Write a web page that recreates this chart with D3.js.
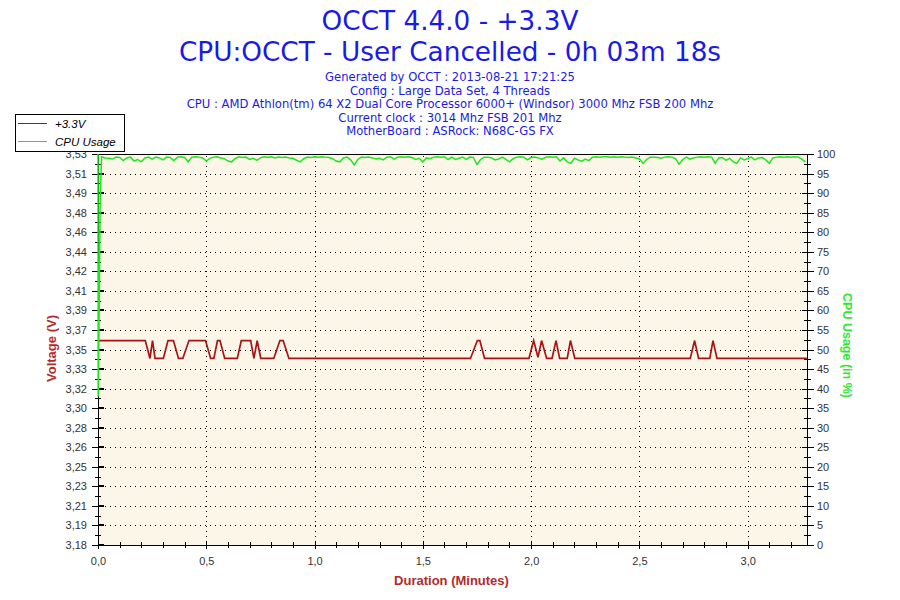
<!DOCTYPE html>
<html>
<head>
<meta charset="utf-8">
<script src="https://cdn.jsdelivr.net/npm/d3@7"></script>
<style>
body { margin: 0; background: #fff; }
</style>
</head>
<body>
<div id="chart-area"></div>
<script>
// Texts
const titleLines = ["OCCT 4.4.0 - +3.3V", "CPU:OCCT - User Cancelled - 0h 03m 18s"]
const infoLines = [
	"Generated by OCCT : 2013-08-21 17:21:25",
	"Config : Large Data Set, 4 Threads",
	"CPU : AMD Athlon(tm) 64 X2 Dual Core Processor 6000+ (Windsor) 3000 Mhz FSB 200 Mhz",
	"Current clock : 3014 Mhz FSB 201 Mhz",
	"MotherBoard : ASRock: N68C-GS FX"
]
const seriesNames = ["+3.3V", "CPU Usage"]

// Axes
const voltDomain = [3.18, 3.53]
const voltTickLabels = ["3,18", "3,19", "3,21", "3,23", "3,25", "3,26", "3,28", "3,30", "3,32", "3,33",
	"3,35", "3,37", "3,39", "3,41", "3,42", "3,44", "3,46", "3,48", "3,49", "3,51", "3,53"]
const cpuTicks = [0, 5, 10, 15, 20, 25, 30, 35, 40, 45, 50, 55, 60, 65, 70, 75, 80, 85, 90, 95, 100]
const timeTicks = [0, 0.5, 1, 1.5, 2, 2.5, 3]
const timeMax = 3.274 // minutes

// +3.3V readings (time in seconds, volts)
const voltTime = [0, 13.1, 14.4, 15.1, 15.8, 18.1, 19.4, 20.9, 22.3, 23.5, 25.2, 29.8, 31.2, 32.1, 33.1, 33.8,
	35.1, 38.6, 39.7, 42.3, 43.2, 44.1, 45.1, 48.7, 50.4, 51.3, 52.9, 103.2, 105.1, 105.8, 107.1,
	119.4, 120.7, 121.9, 122.9, 124.3, 125.8, 126.9, 127.9, 130.0, 130.9, 132.1,
	164.1, 165.3, 166.4, 169.5, 170.4, 171.5, 196.4]
const voltValue = [3.363, 3.363, 3.347, 3.363, 3.347, 3.347, 3.363, 3.363, 3.347, 3.347, 3.363, 3.363, 3.347, 3.347, 3.363, 3.363,
	3.347, 3.347, 3.363, 3.363, 3.347, 3.363, 3.347, 3.347, 3.363, 3.363, 3.347, 3.347, 3.363, 3.363, 3.347,
	3.347, 3.363, 3.348, 3.363, 3.347, 3.347, 3.363, 3.347, 3.347, 3.363, 3.347,
	3.347, 3.363, 3.347, 3.347, 3.363, 3.347, 3.347]

// CPU usage: start-up burst, then one reading per second from t = 1 s
const cpuStartTime = [0, 0.05, 0.35, 0.6]
const cpuStartValue = [100, 38, 62, 88]
const cpuValues = [
	99.3, 99.0, 98.9, 98.7, 99.2, 99.1, 98.3, 99.0, 99.2, 98.2,
	98.6, 98.0, 99.0, 99.2, 98.7, 99.2, 99.0, 98.5, 99.2, 99.1,
	98.3, 99.2, 99.3, 99.1, 98.0, 99.2, 99.3, 99.2, 99.0, 98.2,
	98.9, 99.2, 99.3, 99.0, 98.8, 98.2, 98.0, 98.8, 99.3, 99.1,
	99.2, 98.6, 98.9, 98.4, 99.0, 99.3, 99.2, 99.3, 99.0, 99.2,
	99.1, 99.2, 99.0, 98.9, 98.4, 98.0, 98.8, 99.2, 99.1, 99.3,
	99.2, 99.3, 99.2, 99.1, 98.8, 98.2, 98.0, 99.0, 99.2, 98.5,
	97.2, 98.6, 99.2, 99.1, 99.2, 99.0, 98.7, 98.9, 98.5, 99.2,
	99.3, 98.7, 99.2, 99.3, 99.2, 99.3, 99.1, 98.6, 98.9, 98.0,
	99.0, 98.8, 99.2, 99.3, 99.2, 99.3, 98.6, 99.2, 98.6, 98.9,
	99.2, 98.6, 99.2, 99.1, 97.3, 98.6, 99.2, 99.2, 99.0, 98.5,
	98.7, 99.2, 98.6, 98.0, 98.8, 99.2, 99.3, 99.2, 98.5, 99.1,
	99.2, 99.0, 98.6, 99.2, 99.3, 99.2, 99.3, 98.2, 99.0, 98.0,
	97.6, 98.9, 98.5, 98.1, 98.7, 98.3, 99.2, 99.3, 99.2, 99.3,
	99.3, 99.2, 99.3, 99.2, 99.3, 99.2, 99.1, 99.2, 99.0, 98.8,
	97.6, 98.6, 99.2, 99.2, 99.1, 98.9, 99.2, 99.3, 99.2, 98.8,
	97.4, 98.6, 99.2, 98.7, 99.0, 99.2, 99.3, 99.2, 99.3, 99.2,
	97.6, 99.0, 99.1, 98.4, 98.9, 98.0, 97.6, 99.0, 98.5, 98.8,
	99.2, 98.5, 99.0, 99.1, 98.5, 97.6, 99.0, 99.2, 99.3, 99.2,
	99.3, 99.2, 99.3, 99.2, 98.7, 98.0
]

const BLUE = "#1a1ae6"
const RED = "#a81414"
const GREEN = "#1ee61e"
const AXIS_RED = "#b22a2a"
const AXIS_GREEN = "#33e633"

const MARGIN = { LEFT: 98, RIGHT: 93, TOP: 154, BOTTOM: 55 }
const WIDTH = 900 - MARGIN.LEFT - MARGIN.RIGHT
const HEIGHT = 600 - MARGIN.TOP - MARGIN.BOTTOM

const svg = d3.select("#chart-area").append("svg")
	.attr("width", 900)
	.attr("height", 600)
	.style("display", "block")

// Titles
svg.selectAll(".title")
	.data(titleLines)
	.enter().append("text")
	.attr("class", "title")
	.attr("x", 450)
	.attr("y", (d, i) => 30 + i * 31)
	.attr("text-anchor", "middle")
	.attr("font-family", "DejaVu Sans, Verdana, sans-serif")
	.attr("font-size", "26.3px")
	.attr("fill", BLUE)
	.text(d => d)

svg.selectAll(".info")
	.data(infoLines)
	.enter().append("text")
	.attr("class", "info")
	.attr("x", 450)
	.attr("y", (d, i) => 81 + i * 13.5)
	.attr("text-anchor", "middle")
	.attr("font-family", "DejaVu Sans, Verdana, sans-serif")
	.attr("font-size", "11.6px")
	.attr("fill", BLUE)
	.text(d => d)

const g = svg.append("g")
	.attr("transform", `translate(${MARGIN.LEFT}, ${MARGIN.TOP})`)

// Scales
const x = d3.scaleLinear().domain([0, timeMax]).range([0, WIDTH])
const yVolt = d3.scaleLinear().domain(voltDomain).range([HEIGHT, 0])
const yCpu = d3.scaleLinear().domain([0, 100]).range([HEIGHT, 0])

const voltStep = (voltDomain[1] - voltDomain[0]) / (voltTickLabels.length - 1)
const voltTicks = voltTickLabels.map((d, i) => voltDomain[0] + i * voltStep)
const voltMinor = voltTicks.slice(0, -1).map(d => d + voltStep / 2)
const cpuMinor = cpuTicks.slice(0, -1).map(d => d + 2.5)
const timeMinor = d3.range(1, Math.floor(timeMax * 10) + 1).filter(i => i % 5 !== 0).map(i => i / 10)

const comma = d3.formatLocale({ decimal: ",", thousands: ".", grouping: [3], currency: ["", ""] }).format(".1f")

// Plot background
g.append("rect")
	.attr("width", WIDTH)
	.attr("height", HEIGHT)
	.attr("fill", "#fcf6e8")

// Dotted grid
g.selectAll(".hgrid")
	.data(voltTicks.slice(1, -1))
	.enter().append("line")
	.attr("class", "hgrid")
	.attr("x1", 2).attr("x2", WIDTH)
	.attr("y1", d => Math.round(yVolt(d)) + 0.5)
	.attr("y2", d => Math.round(yVolt(d)) + 0.5)
	.attr("stroke", "#000")
	.attr("stroke-dasharray", "1,4")
	.attr("shape-rendering", "crispEdges")

g.selectAll(".vgrid")
	.data(timeTicks.slice(1))
	.enter().append("line")
	.attr("class", "vgrid")
	.attr("x1", d => Math.round(x(d)) + 0.5)
	.attr("x2", d => Math.round(x(d)) + 0.5)
	.attr("y1", 2).attr("y2", HEIGHT)
	.attr("stroke", "#000")
	.attr("stroke-dasharray", "1,4")
	.attr("shape-rendering", "crispEdges")

// Top border
g.append("line")
	.attr("x1", 0).attr("x2", WIDTH)
	.attr("y1", 0.5).attr("y2", 0.5)
	.attr("stroke", "#000")
	.attr("shape-rendering", "crispEdges")

function styleAxis(sel) {
	sel.select(".domain").attr("stroke", "#000")
	sel.selectAll("line").attr("stroke", "#000")
	sel.selectAll("text")
		.attr("font-family", "Liberation Sans, Arial, sans-serif")
		.attr("font-size", "11px")
		.attr("fill", "#333")
	sel.attr("shape-rendering", "crispEdges")
}

// Left axis (volts)
const leftAxis = g.append("g")
	.attr("class", "y axis")
	.call(d3.axisLeft(yVolt)
		.tickValues(voltTicks)
		.tickFormat((d, i) => voltTickLabels[i])
		.tickSize(6)
		.tickSizeOuter(0)
		.tickPadding(5))
	.call(styleAxis)
leftAxis.selectAll(".tick line").attr("x1", 6)
leftAxis.selectAll(".inner")
	.data(voltTicks.slice(0, -1))
	.enter().append("line")
	.attr("class", "inner")
	.attr("x1", 0).attr("x2", 6)
	.attr("y1", d => Math.round(yVolt(d)))
	.attr("y2", d => Math.round(yVolt(d)))
	.attr("stroke", "#000")
	.attr("stroke-width", 2)
leftAxis.selectAll(".minor")
	.data(voltMinor)
	.enter().append("line")
	.attr("class", "minor")
	.attr("x1", -3).attr("x2", 3)
	.attr("y1", d => Math.round(yVolt(d)) + 0.5)
	.attr("y2", d => Math.round(yVolt(d)) + 0.5)
	.attr("stroke", "#000")

// Right axis (CPU %)
const rightAxis = g.append("g")
	.attr("class", "y axis")
	.attr("transform", `translate(${WIDTH}, 0)`)
	.call(d3.axisRight(yCpu)
		.tickValues(cpuTicks)
		.tickSize(7)
		.tickSizeOuter(0)
		.tickPadding(3))
	.call(styleAxis)
rightAxis.selectAll(".tick line").attr("x1", -5)
rightAxis.selectAll(".minor")
	.data(cpuMinor)
	.enter().append("line")
	.attr("class", "minor")
	.attr("x1", -3).attr("x2", 4)
	.attr("y1", d => Math.round(yCpu(d)) + 0.5)
	.attr("y2", d => Math.round(yCpu(d)) + 0.5)
	.attr("stroke", "#000")

// Bottom axis (minutes)
const bottomAxis = g.append("g")
	.attr("class", "x axis")
	.attr("transform", `translate(0, ${HEIGHT})`)
	.call(d3.axisBottom(x)
		.tickValues(timeTicks)
		.tickFormat(comma)
		.tickSize(4)
		.tickSizeOuter(0))
	.call(styleAxis)
bottomAxis.selectAll(".tick line").attr("y1", -4)
bottomAxis.selectAll(".tick text").attr("y", 19.5).attr("dy", 0)
bottomAxis.selectAll(".minor")
	.data(timeMinor)
	.enter().append("line")
	.attr("class", "minor")
	.attr("y1", -3).attr("y2", 3)
	.attr("x1", d => Math.round(x(d)) + 0.5)
	.attr("x2", d => Math.round(x(d)) + 0.5)
	.attr("stroke", "#000")

// Axis titles
g.append("text")
	.attr("transform", "rotate(-90)")
	.attr("x", -HEIGHT / 2 + 1)
	.attr("y", 51 - MARGIN.LEFT + 5)
	.attr("text-anchor", "middle")
	.attr("font-family", "Liberation Sans, Arial, sans-serif")
	.attr("font-weight", "bold")
	.attr("font-size", "13px")
	.attr("fill", AXIS_RED)
	.text("Voltage (V)")

g.append("text")
	.attr("transform", "rotate(90)")
	.attr("x", HEIGHT / 2 - 4)
	.attr("y", -(848 - MARGIN.LEFT) + 5)
	.attr("text-anchor", "middle")
	.attr("font-family", "Liberation Sans, Arial, sans-serif")
	.attr("font-weight", "bold")
	.attr("font-size", "12.5px")
	.attr("fill", AXIS_GREEN)
	.text("CPU Usage (in %)")

g.append("text")
	.attr("x", WIDTH / 2 - 1)
	.attr("y", HEIGHT + 40)
	.attr("text-anchor", "middle")
	.attr("font-family", "Liberation Sans, Arial, sans-serif")
	.attr("font-weight", "bold")
	.attr("font-size", "13px")
	.attr("fill", AXIS_RED)
	.text("Duration (Minutes)")

// Series
g.append("clipPath").attr("id", "plot-clip")
	.append("rect")
	.attr("x", -1).attr("y", 0)
	.attr("width", WIDTH + 1).attr("height", HEIGHT)

const voltData = voltTime.map((t, i) => ({ t: t, v: voltValue[i] }))
const cpuData = cpuStartTime.map((t, i) => ({ t: t, v: cpuStartValue[i] }))
	.concat(cpuValues.map((v, i) => ({ t: i + 1, v: v })))

const voltLine = d3.line().x(d => x(d.t / 60)).y(d => yVolt(d.v))
const cpuLine = d3.line().x(d => x(d.t / 60)).y(d => yCpu(d.v))

g.append("path")
	.datum(voltData)
	.attr("clip-path", "url(#plot-clip)")
	.attr("fill", "none")
	.attr("stroke", RED)
	.attr("stroke-width", 1.7)
	.attr("d", voltLine)

g.append("path")
	.datum(cpuData)
	.attr("clip-path", "url(#plot-clip)")
	.attr("fill", "none")
	.attr("stroke", GREEN)
	.attr("stroke-width", 1.5)
	.attr("d", cpuLine)

// Legend
const legend = svg.append("g")
legend.append("rect")
	.attr("x", 15.5).attr("y", 114.5)
	.attr("width", 109).attr("height", 37)
	.attr("fill", "#fff")
	.attr("stroke", "#000")
	.attr("shape-rendering", "crispEdges")

const legendItems = legend.selectAll(".item")
	.data(seriesNames)
	.enter().append("g")
	.attr("class", "item")
	.attr("transform", (d, i) => `translate(0, ${123.5 + i * 18})`)
legendItems.append("line")
	.attr("x1", 18).attr("x2", 47)
	.attr("stroke", (d, i) => i === 0 ? RED : GREEN)
	.attr("stroke-width", 1)
legendItems.append("text")
	.attr("x", 55)
	.attr("y", 4)
	.attr("font-family", "Liberation Sans, Arial, sans-serif")
	.attr("font-style", "italic")
	.attr("font-size", "11.5px")
	.attr("fill", "#000")
	.text(d => d)
</script>
</body>
</html>
